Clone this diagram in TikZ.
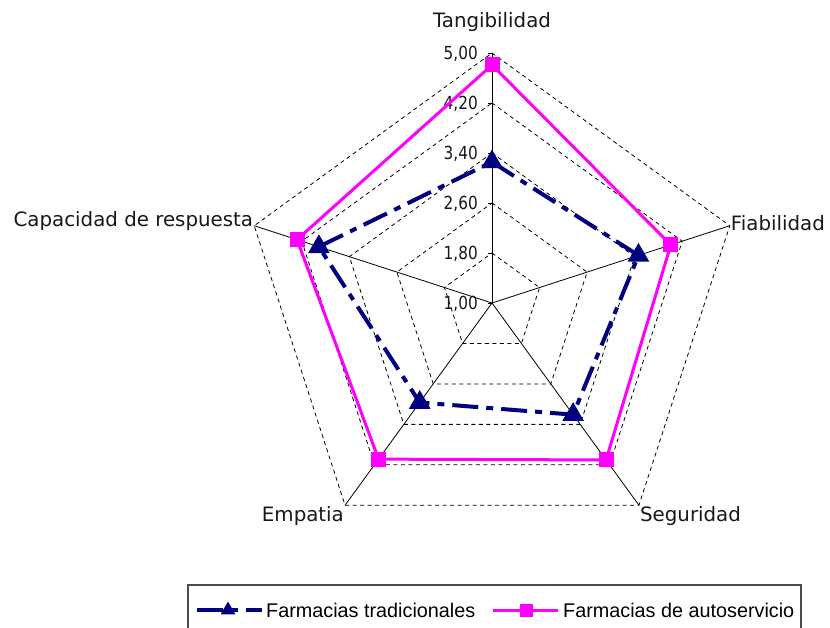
\documentclass[tikz,border=0pt]{standalone}
\usepackage{fontspec}
\setmainfont{DejaVu Sans}
\newfontfamily\tickfont{DejaVu Sans}[FakeStretch=0.85]
\newfontfamily\legendfont{Liberation Sans}
\usetikzlibrary{positioning,
                shapes.geometric
            }

\definecolor{tradblue}{HTML}{000080}
\definecolor{autopink}{HTML}{FF00FF}

\tikzset{
    ring/.style={draw=black, dash pattern=on 4pt off 3.5pt, line width=0.8pt},
    spoke/.style={draw=black, line width=0.8pt},
    axislabel/.style={font=\fontsize{19.8}{23}\selectfont, text=black!90, inner sep=1pt},
    ticklabel/.style={font=\tickfont\fontsize{18}{21}\selectfont, text=black!90, anchor=east, inner sep=0pt},
    tradline/.style={draw=tradblue, line width=4pt, dash pattern=on 26pt off 8pt on 7pt off 8pt},
    autoline/.style={draw=autopink, line width=3pt},
    tradmark/.style={regular polygon, regular polygon sides=3, fill=tradblue, inner sep=0pt, minimum size=25pt},
    automark/.style={rectangle, fill=autopink, inner sep=0pt, minimum size=15pt},
    legendtext/.style={font=\legendfont\fontsize{19.8}{24}\selectfont, anchor=west, inner sep=0pt}
}

\begin{document}
\begin{tikzpicture}[x=1pt, y=1pt]
    \fill[white] (0,0) rectangle (830,-628);
    \useasboundingbox (0,0) rectangle (830,-628);

    \begin{scope}[shift={(492,-303)}]
        \coordinate (c) at (0,0);
        % rings
        \foreach \r in {50,100,150,200,250}
            \draw[ring] (90:\r) -- (18:\r) -- (-54:\r) -- (-126:\r) -- (162:\r) -- cycle;
        % axes
        \draw[spoke] (c) -- (90:250) coordinate (tang);
        \draw[spoke] (c) -- (18:250) coordinate (fiab);
        \draw[spoke] (c) -- (-54:250) coordinate (segu);
        \draw[spoke] (c) -- (-126:250) coordinate (empa);
        \draw[spoke] (c) -- (162:250) coordinate (capa);
        % value scale
        \foreach \r/\v in {0/{1,00},50/{1,80},100/{2,60},150/{3,40},200/{4,20},250/{5,00}} {
            \draw[spoke] (-4,\r) -- (0,\r);
            \node[ticklabel] (tick\r) at (-14,\r-1) {\v};
        }

        % Farmacias tradicionales
        \path (90:141) coordinate (t1) (18:154) coordinate (t2) (-54:138) coordinate (t3)
              (-126:123) coordinate (t4) (162:182) coordinate (t5);
        \draw[tradline] (t1) -- (t2) -- (t3) -- (t4) -- (t5) -- cycle;
        \foreach \i in {1,...,5}
            \node[tradmark] (tm\i) at (t\i) {};

        % Farmacias de autoservicio
        \path (90:238) coordinate (a1) (18:188) coordinate (a2) (-54:194) coordinate (a3)
              (-126:193) coordinate (a4) (162:205) coordinate (a5);
        \draw[autoline] (a1) -- (a2) -- (a3) -- (a4) -- (a5) -- cycle;
        \foreach \i in {1,...,5}
            \node[automark] (am\i) at (a\i) {};

        \node[axislabel, above=20pt of tang] (ltang) {Tangibilidad};
        \node[axislabel, right=0pt of fiab, yshift=3pt] (lfiab) {Fiabilidad};
        \node[axislabel, anchor=north west] (lsegu) at (segu) {Seguridad};
        \node[axislabel, anchor=north east] (lempa) at (empa) {Empatia};
        \node[axislabel, left=0pt of capa, yshift=5pt] (lcapa) {Capacidad de respuesta};
    \end{scope}

    % legend
    \draw[black!70, line width=1.2pt] (188,-585) rectangle (801,-645);
    \coordinate (la) at (197,-610);
    \coordinate (lb) at (262,-610);
    \draw[tradline] (la) -- (lb);
    \node[tradmark, minimum size=17pt] (ltm) at (228,-610) {};
    \node[legendtext, right=4pt of lb] (ltrad) {Farmacias tradicionales};
    \coordinate (lc) at (493,-610);
    \coordinate (ld) at (558,-610);
    \draw[autoline] (lc) -- (ld);
    \node[automark, minimum size=13pt] (lam) at (526,-610) {};
    \node[legendtext, right=5pt of ld] (lauto) {Farmacias de autoservicio};
\end{tikzpicture}
\end{document}
